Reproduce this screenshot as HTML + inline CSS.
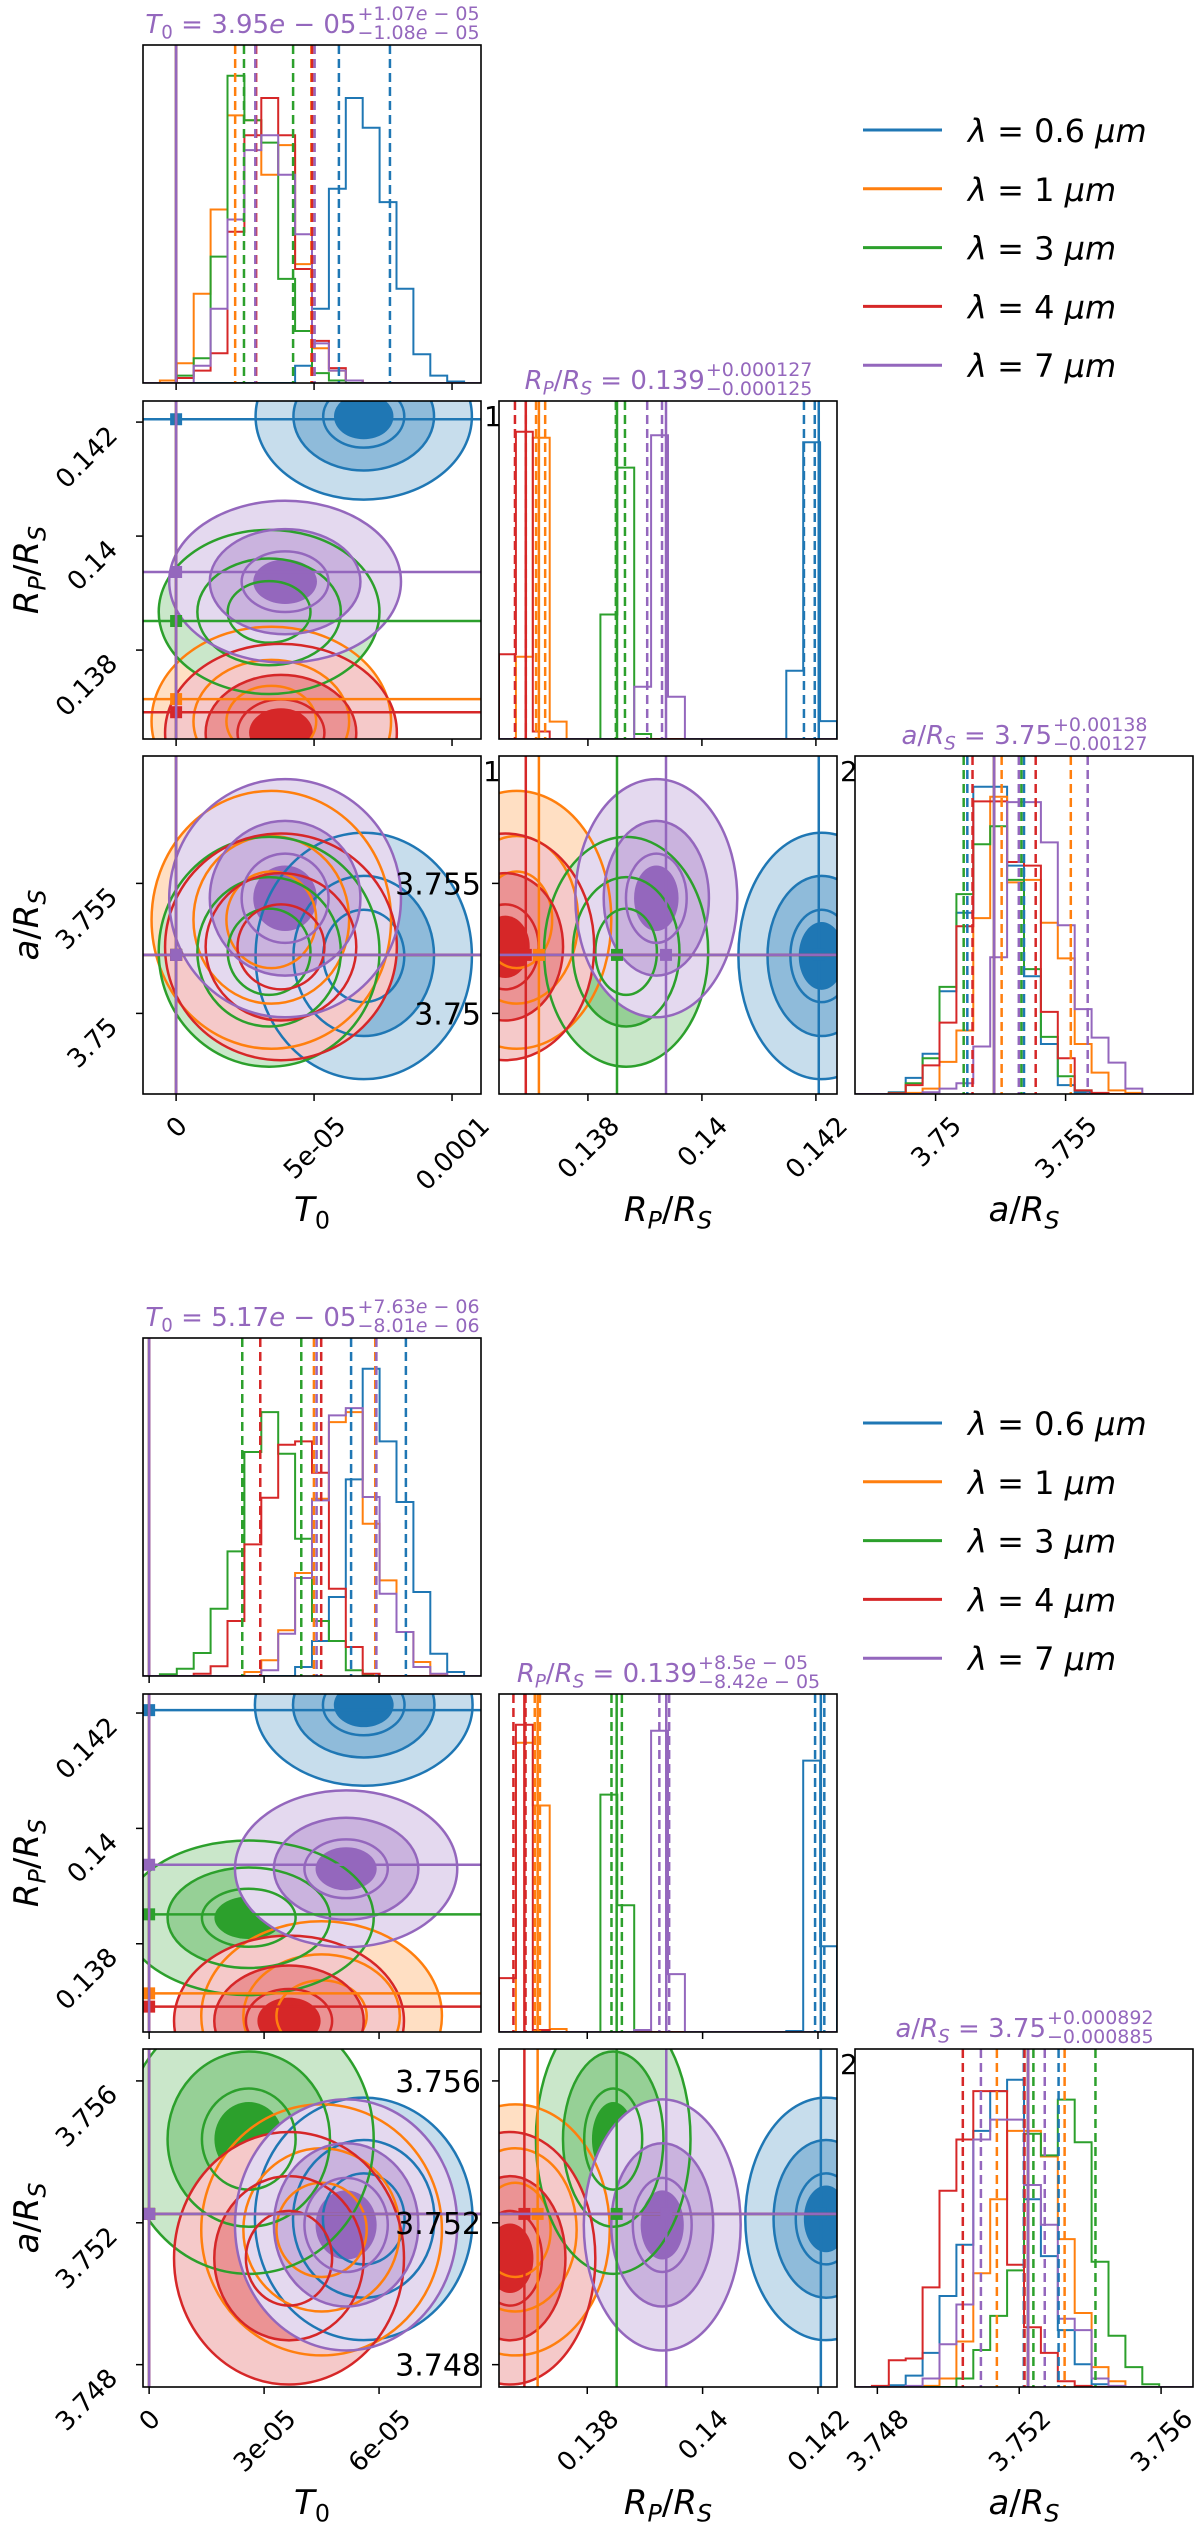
<!DOCTYPE html>
<html><head><meta charset="utf-8">
<style>
body{margin:0;background:#fff}
svg text{font-family:"DejaVu Sans","Liberation Sans",sans-serif}
</style></head>
<body>
<svg id="fig" width="1200" height="2530" xmlns="http://www.w3.org/2000/svg"><defs id="defs"></defs></svg>
<script>
// ---------- shared data ----------
const seriesLabels = ['0.6','1','3','4','7'];
const truthT0 = 0;
const truthRp = [0.14205,0.13714,0.13851,0.13691,0.13937];
const truthA = 3.75225;

// ---------- top figure (A) ----------
const A_t0Range=[-1.2,11.05];
const A_rpRange=[0.13644,0.14237];
const A_aRange=[3.7469,3.7599];
const A_t0Center=[6.8,3.45,3.37,3.8,3.95];
const A_rpCenter=[0.1421,0.13675,0.13867,0.13655,0.1392];
const A_aCenter=[3.75221,3.7536,3.75237,3.75256,3.75443];
const A_t0Sigma=[1.96,2.17,2.0,2.1,2.1];
const A_rpSigma=[0.00073,0.00083,0.00072,0.00078,0.00071];
const A_aSigma=[0.00237,0.00248,0.00221,0.00218,0.00229];
const A_t0Q16=[5.9,2.14,2.46,2.9,2.87];
const A_t0Q84=[7.75,4.9,4.24,4.93,5.02];
const A_rpQ16=[0.14179,0.13709,0.13849,0.13672,0.13904];
const A_rpQ84=[0.14198,0.13725,0.13865,0.13691,0.1393];
const A_aQ16=[3.75122,3.75254,3.75108,3.75142,3.7532];
const A_aQ84=[3.7534,3.7552,3.7533,3.75385,3.75585];
const A_t0HistBlue  =[0,0,0,0,0,0,0,0,0,35,150,392,575,515,365,190,58,15,3,0];
const A_t0HistOrange=[0,5,40,180,350,540,530,420,480,240,70,25,5,0,0,0,0,0,0,0];
const A_t0HistGreen =[0,0,15,50,255,620,530,485,210,105,20,5,0,0,0,0,0,0,0,0];
const A_t0HistRed   =[0,0,10,25,60,305,500,575,500,230,85,30,5,0,0,0,0,0,0,0];
const A_t0HistPurple=[0,0,0,35,150,330,470,500,420,300,80,25,5,0,0,0,0,0,0,0];
const A_rpHistBlue  =[0,0,0,0,0,0,0,0,0,0,0,0,0,0,0,0,0,137,596,36];
const A_rpHistOrange=[0,165,605,35,0,0,0,0,0,0,0,0,0,0,0,0,0,0,0,0];
const A_rpHistGreen =[0,0,0,0,0,0,250,545,10,0,0,0,0,0,0,0,0,0,0,0];
const A_rpHistRed   =[170,617,15,0,0,0,0,0,0,0,0,0,0,0,0,0,0,0,0,0];
const A_rpHistPurple=[0,0,0,0,0,0,0,0,105,610,85,0,0,0,0,0,0,0,0,0];
const A_aHistBlue  =[0,0,5,45,113,288,508,861,861,640,330,140,25,5,0,0,0,0,0,0];
const A_aHistOrange=[0,0,0,3,15,90,178,493,833,593,600,480,380,140,60,10,3,0,0,0];
const A_aHistGreen =[0,0,3,30,100,300,560,700,750,600,350,160,50,10,0,0,0,0,0,0];
const A_aHistRed   =[0,0,2,25,80,200,470,820,820,650,640,230,100,10,3,0,0,0,0,0];
const A_aHistPurple=[0,0,0,0,5,15,30,133,383,818,818,705,473,238,158,88,15,0,0,0];
const A_t0Ticks=[0,5,10];
const A_t0TickLabels=['0','5e-05','0.0001'];
const A_rpTicks=[0.138,0.14,0.142];
const A_rpTickLabels=['0.138','0.14','0.142'];
const A_aTicks=[3.75,3.755];
const A_aTickLabels=['3.75','3.755'];
const A_titleVals=[['3.95e − 05','+1.07e − 05','−1.08e − 05'],['0.139','+0.000127','−0.000125'],['3.75','+0.00138','−0.00127']];

// ---------- bottom figure (B) ----------
const B_t0Range=[-0.16,8.66];
const B_rpRange=[0.13647,0.14233];
const B_aRange=[3.74737,3.7569];
const B_t0Center=[5.6,4.5,2.6,3.65,5.14];
const B_rpCenter=[0.14214,0.13675,0.13845,0.13666,0.1393];
const B_aCenter=[3.75211,3.7518,3.75436,3.751,3.75194];
const B_t0Sigma=[1.42,1.57,1.63,1.5,1.45];
const B_rpSigma=[0.0007,0.00082,0.00067,0.00074,0.00068];
const B_aSigma=[0.00171,0.00177,0.0019,0.00178,0.00177];
const B_t0Q16=[5.27,4.3,2.43,2.9,4.37];
const B_t0Q84=[6.7,5.9,3.97,4.49,5.93];
const B_rpQ16=[0.14195,0.13709,0.13842,0.13672,0.13925];
const B_rpQ84=[0.14211,0.13718,0.1386,0.13693,0.13942];
const B_aQ16=[3.75213,3.75137,3.7524,3.75041,3.75092];
const B_aQ84=[3.75311,3.75328,3.75415,3.75215,3.75272];
const B_t0HistBlue  =[0,0,0,0,0,0,0,0,0,27,105,237,590,922,704,522,252,67,12,0];
const B_t0HistOrange=[0,0,0,0,0,0,12,47,137,309,532,762,792,457,287,132,42,5,0,0];
const B_t0HistGreen =[0,5,22,69,202,374,672,792,667,412,165,105,17,2,0,0,0,0,0,0];
const B_t0HistRed   =[0,0,0,7,29,165,395,535,694,704,610,262,87,7,0,0,0,0,0,0];
const B_t0HistPurple=[0,0,0,0,0,0,0,17,127,294,527,782,804,537,247,132,27,7,0,0];
const B_rpHistBlue  =[0,0,0,0,0,0,0,0,0,0,0,0,0,0,0,0,0,1,272,86];
const B_rpHistOrange=[0,290,227,3,0,0,0,0,0,0,0,0,0,0,0,0,0,0,0,0];
const B_rpHistGreen =[0,0,0,0,0,0,238,127,1,0,0,0,0,0,0,0,0,0,0,0];
const B_rpHistRed   =[54,308,2,0,0,0,0,0,0,0,0,0,0,0,0,0,0,0,0,0];
const B_rpHistPurple=[0,0,0,0,0,0,0,0,2,302,58,0,0,0,0,0,0,0,0,0];
const B_aHistBlue  =[0,0,3,20,60,160,250,450,520,540,330,230,100,40,5,0,0,0,0,0];
const B_aHistOrange=[0,0,0,0,2,15,80,200,330,450,450,405,260,130,35,10,0,0,0,0];
const B_aHistGreen =[0,0,0,0,0,0,15,65,125,205,445,407,505,430,220,90,35,5,0,0];
const B_aHistRed   =[0,2,47,50,175,345,435,520,520,215,105,60,10,2,0,0,0,0,0,0];
const B_aHistPurple=[0,0,0,2,15,75,145,435,470,470,355,285,120,100,15,2,0,0,0,0];
const B_t0Ticks=[0,3,6];
const B_t0TickLabels=['0','3e-05','6e-05'];
const B_rpTicks=[0.138,0.14,0.142];
const B_rpTickLabels=['0.138','0.14','0.142'];
const B_aTicks=[3.748,3.752,3.756];
const B_aTickLabels=['3.748','3.752','3.756'];
const B_titleVals=[['5.17e − 05','+7.63e − 06','−8.01e − 06'],['0.139','+8.5e − 05','−8.42e − 05'],['3.75','+0.000892','−0.000885']];

// ---------- drawing ----------
const COLORS=['#1f77b4','#ff7f0e','#2ca02c','#d62728','#9467bd'];
const NS='http://www.w3.org/2000/svg';
const svg=document.getElementById('fig');
const defs=document.getElementById('defs');
function mk(tag,parent,attrs){const e=document.createElementNS(NS,tag);for(const k in attrs)e.setAttribute(k,attrs[k]);parent.appendChild(e);return e;}
function lin(d0,d1,r0,r1){return v=>r0+(v-d0)/(d1-d0)*(r1-r0);}
function mixWhite(hex,a){
  const r=parseInt(hex.substr(1,2),16),g=parseInt(hex.substr(3,2),16),b=parseInt(hex.substr(5,2),16);
  const f=v=>Math.round(255-(255-v)*a);
  return 'rgb('+f(r)+','+f(g)+','+f(b)+')';
}
function mathText(parent,x,y,parts,size,fill,anchor){
  const t=mk('text',parent,{x:x,y:y,'font-size':size,fill:fill,'text-anchor':anchor||'start'});
  let shift=0;
  for(const p of parts){
    const s=p[0],ty=p[1];const sub=ty[0]==='s';const target=sub?size*0.22:0;
    const sp=mk('tspan',t,{dy:(target-shift).toFixed(2)});
    if(sub)sp.setAttribute('font-size',(size*0.7).toFixed(1));
    if(ty.indexOf('i')>=0)sp.setAttribute('font-style','italic');
    sp.textContent=s;shift=target;
  }
  return t;
}
function eParts(str){
  const out=[];const segs=str.split('e');
  segs.forEach((s,i)=>{if(s)out.push([s,'r']);if(i<segs.length-1)out.push(['e','i']);});
  return out;
}
const LABELS=[
  [['T','i'],['0','sr']],
  [['R','i'],['P','si'],['/','r'],['R','i'],['S','si']],
  [['a','i'],['/','r'],['R','i'],['S','si']]
];

function drawCorner(F){
  const oy=F.oy, S=338;
  const cols=[143,499,855];
  const rows=[45+oy,401+oy,756+oy];
  const rngs=[F.t0Range,F.rpRange,F.aRange];
  const centers=[F.t0Center,F.rpCenter,F.aCenter];
  const sigmas=[F.t0Sigma,F.rpSigma,F.aSigma];
  const q16=[F.t0Q16,F.rpQ16,F.aQ16];
  const q84=[F.t0Q84,F.rpQ84,F.aQ84];
  const hists=[F.t0Hist,F.rpHist,F.aHist];
  const ticks=[F.t0Ticks,F.rpTicks,F.aTicks];
  const tickLabels=[F.t0TickLabels,F.rpTickLabels,F.aTickLabels];
  const truth=[i=>truthT0,i=>truthRp[i],i=>truthA];
  const paramNames=['t0','rp','a'];
  const root=mk('g',svg,{});
  
  

  for(const g of F.stray){
    const t=mk('text',root,{x:g[1],y:g[2]+oy,'font-size':28,fill:'#000'});
    t.textContent=g[0];
    
    
  }

  for(let r=0;r<3;r++){
    for(let c=0;c<=r;c++){
      const px=cols[c],py=rows[r];
      const g=mk('g',root,{});
      
      
      const cid=F.name+'-clip-'+r+'-'+c;
      const cp=mk('clipPath',defs,{id:cid});
      mk('rect',cp,{x:px,y:py,width:S,height:S});
      const inner=mk('g',g,{'clip-path':'url(#'+cid+')'});
      const xs=lin(rngs[c][0],rngs[c][1],px,px+S);
      if(r===c){
        const H=hists[c];
        let mx=0;H.forEach(h=>h.forEach(v=>{if(v>mx)mx=v;}));
        const ys=lin(0,mx*1.1,py+S,py);
        const nb=H[0].length;const bw=(rngs[c][1]-rngs[c][0])/nb;
        for(let i=0;i<5;i++){
          let d='M'+xs(rngs[c][0]).toFixed(1)+' '+ys(0).toFixed(1);
          for(let b=0;b<nb;b++){
            const x0=xs(rngs[c][0]+b*bw),x1=xs(rngs[c][0]+(b+1)*bw),y=ys(H[i][b]);
            d+=' L'+x0.toFixed(1)+' '+y.toFixed(1)+' L'+x1.toFixed(1)+' '+y.toFixed(1);
          }
          d+=' L'+xs(rngs[c][1]).toFixed(1)+' '+ys(0).toFixed(1);
          const p=mk('path',inner,{d:d,fill:'none',stroke:COLORS[i],'stroke-width':2});
          
          
        }
        for(let i=0;i<5;i++){
          for(const q of [q16[c][i],q84[c][i]]){
            const l=mk('line',inner,{x1:xs(q),x2:xs(q),y1:py,y2:py+S,stroke:COLORS[i],'stroke-width':2.5,'stroke-dasharray':'9,5'});
            
            
          }
        }
        for(let i=0;i<5;i++){
          const tv=truth[c](i);
          const l=mk('line',inner,{x1:xs(tv),x2:xs(tv),y1:py,y2:py+S,stroke:COLORS[i],'stroke-width':2.5});
          
          
        }
        const tv=F.titleVals[c];
        const tg=mk('g',g,{});
        
        
        const base=py-12;
        const main=mathText(tg,0,base,LABELS[c].concat([[' = ','r']]).concat(eParts(tv[0])),26,COLORS[4]);
        const sup=mathText(tg,0,base-13,eParts(tv[1]),19,COLORS[4]);
        const sub=mathText(tg,0,base+6,eParts(tv[2]),19,COLORS[4]);
        const wm=main.getBBox().width,ws=Math.max(sup.getBBox().width,sub.getBBox().width);
        const x0=px+S/2-(wm+ws)/2;
        main.setAttribute('x',x0);sup.setAttribute('x',x0+wm+1);sub.setAttribute('x',x0+wm+1);
      } else {
        const ys=lin(rngs[r][0],rngs[r][1],py+S,py);
        const geo=[];
        for(let i=0;i<5;i++){
          const cx=xs(centers[c][i]),cy=ys(centers[r][i]);
          const sx=Math.abs(xs(sigmas[c][i])-xs(0)),sy=Math.abs(ys(sigmas[r][i])-ys(0));
          geo.push([cx,cy,sx,sy]);
        }
        // fills (opaque pastel), in series order
        for(let i=0;i<5;i++){
          const [cx,cy,sx,sy]=geo[i];
          const eg=mk('g',inner,{});
          
          
          mk('ellipse',eg,{cx:cx,cy:cy,rx:2*sx,ry:2*sy,fill:mixWhite(COLORS[i],0.25)});
          mk('ellipse',eg,{cx:cx,cy:cy,rx:1.3*sx,ry:1.3*sy,fill:mixWhite(COLORS[i],0.5)});
          mk('ellipse',eg,{cx:cx,cy:cy,rx:0.55*sx,ry:0.55*sy,fill:COLORS[i]});
        }
        // contour lines on top
        for(let i=0;i<5;i++){
          const [cx,cy,sx,sy]=geo[i];
          const eg=mk('g',inner,{});
          
          
          for(const f of [2,1.3,0.75]){
            mk('ellipse',eg,{cx:cx,cy:cy,rx:f*sx,ry:f*sy,fill:'none',stroke:COLORS[i],'stroke-width':2.5});
          }
        }
        for(let i=0;i<5;i++){
          const tx=xs(truth[c](i)),ty=ys(truth[r](i));
          const l1=mk('line',inner,{x1:tx,x2:tx,y1:py,y2:py+S,stroke:COLORS[i],'stroke-width':2.5});
          
          
          const l2=mk('line',inner,{x1:px,x2:px+S,y1:ty,y2:ty,stroke:COLORS[i],'stroke-width':2.5});
          
          
          const m=mk('rect',inner,{x:tx-6,y:ty-6,width:12,height:12,fill:COLORS[i]});
          
          
        }
      }
      mk('rect',g,{x:px,y:py,width:S,height:S,fill:'none',stroke:'#000','stroke-width':1.6});
      ticks[c].forEach((tv,ti)=>{
        const x=xs(tv);
        mk('line',g,{x1:x,x2:x,y1:py+S,y2:py+S+7,stroke:'#000','stroke-width':1.5});
        if(r===2){
          const t=mk('text',g,{'font-size':26,'text-anchor':'end',fill:'#000'});
          t.textContent=tickLabels[c][ti];
          
          
          const L=t.getComputedTextLength(),h=19;
          const Px=x+0.354*(L+h),Py=py+S+20+0.707*h;
          t.setAttribute('x',Px);t.setAttribute('y',Py);
          t.setAttribute('transform','rotate(-45 '+Px.toFixed(1)+' '+Py.toFixed(1)+')');
        }
      });
      if(r>c){
        const ys=lin(rngs[r][0],rngs[r][1],py+S,py);
        ticks[r].forEach((tv,ti)=>{
          const y=ys(tv);
          mk('line',g,{x1:px-7,x2:px,y1:y,y2:y,stroke:'#000','stroke-width':1.5});
          if(c===0){
            const t=mk('text',g,{'font-size':26,'text-anchor':'end',fill:'#000'});
            t.textContent=tickLabels[r][ti];
            
            
            const Px=px-24,Py=y+15;
            t.setAttribute('x',Px);t.setAttribute('y',Py);
            t.setAttribute('transform','rotate(-45 '+Px+' '+Py.toFixed(1)+')');
          } else {
            const t=mk('text',g,{x:px-18,y:y+11,'font-size':30,'text-anchor':'end',fill:'#000'});
            t.textContent=tickLabels[r][ti];
            
            
          }
        });
      }
    }
  }
  for(let k=0;k<3;k++){
    const t=mathText(root,cols[k]+S/2,rows[2]+S+127,LABELS[k],34,'#000','middle');
    
    
  }
  for(let k=1;k<3;k++){
    const cy=rows[k]+S/2;
    const t=mathText(root,0,0,LABELS[k],34,'#000','middle');
    t.setAttribute('transform','translate(38 '+cy+') rotate(-90)');
    
    
  }
  const lg=mk('g',root,{});
  
  
  for(let i=0;i<5;i++){
    const y=130+oy+i*58.8;
    const e=mk('g',lg,{});
    
    
    mk('line',e,{x1:863,x2:942,y1:y,y2:y,stroke:COLORS[i],'stroke-width':3});
    mathText(e,968,y+12,[['λ','i'],[' = '+seriesLabels[i]+' ','r'],['μm','i']],32,'#000');
  }
}

drawCorner({name:'corner-top',oy:0,t0Range:A_t0Range,rpRange:A_rpRange,aRange:A_aRange,
  t0Center:A_t0Center,rpCenter:A_rpCenter,aCenter:A_aCenter,
  t0Sigma:A_t0Sigma,rpSigma:A_rpSigma,aSigma:A_aSigma,
  t0Q16:A_t0Q16,t0Q84:A_t0Q84,rpQ16:A_rpQ16,rpQ84:A_rpQ84,aQ16:A_aQ16,aQ84:A_aQ84,
  t0Hist:[A_t0HistBlue,A_t0HistOrange,A_t0HistGreen,A_t0HistRed,A_t0HistPurple],
  rpHist:[A_rpHistBlue,A_rpHistOrange,A_rpHistGreen,A_rpHistRed,A_rpHistPurple],
  aHist:[A_aHistBlue,A_aHistOrange,A_aHistGreen,A_aHistRed,A_aHistPurple],
  t0Ticks:A_t0Ticks,t0TickLabels:A_t0TickLabels,rpTicks:A_rpTicks,rpTickLabels:A_rpTickLabels,
  aTicks:A_aTicks,aTickLabels:A_aTickLabels,titleVals:A_titleVals,
  stray:[['1',484,426],['1',483,781],['2',840,781]]});

drawCorner({name:'corner-bottom',oy:1293,t0Range:B_t0Range,rpRange:B_rpRange,aRange:B_aRange,
  t0Center:B_t0Center,rpCenter:B_rpCenter,aCenter:B_aCenter,
  t0Sigma:B_t0Sigma,rpSigma:B_rpSigma,aSigma:B_aSigma,
  t0Q16:B_t0Q16,t0Q84:B_t0Q84,rpQ16:B_rpQ16,rpQ84:B_rpQ84,aQ16:B_aQ16,aQ84:B_aQ84,
  t0Hist:[B_t0HistBlue,B_t0HistOrange,B_t0HistGreen,B_t0HistRed,B_t0HistPurple],
  rpHist:[B_rpHistBlue,B_rpHistOrange,B_rpHistGreen,B_rpHistRed,B_rpHistPurple],
  aHist:[B_aHistBlue,B_aHistOrange,B_aHistGreen,B_aHistRed,B_aHistPurple],
  t0Ticks:B_t0Ticks,t0TickLabels:B_t0TickLabels,rpTicks:B_rpTicks,rpTickLabels:B_rpTickLabels,
  aTicks:B_aTicks,aTickLabels:B_aTickLabels,titleVals:B_titleVals,
  stray:[['2',840,781]]});
</script>
</body></html>
